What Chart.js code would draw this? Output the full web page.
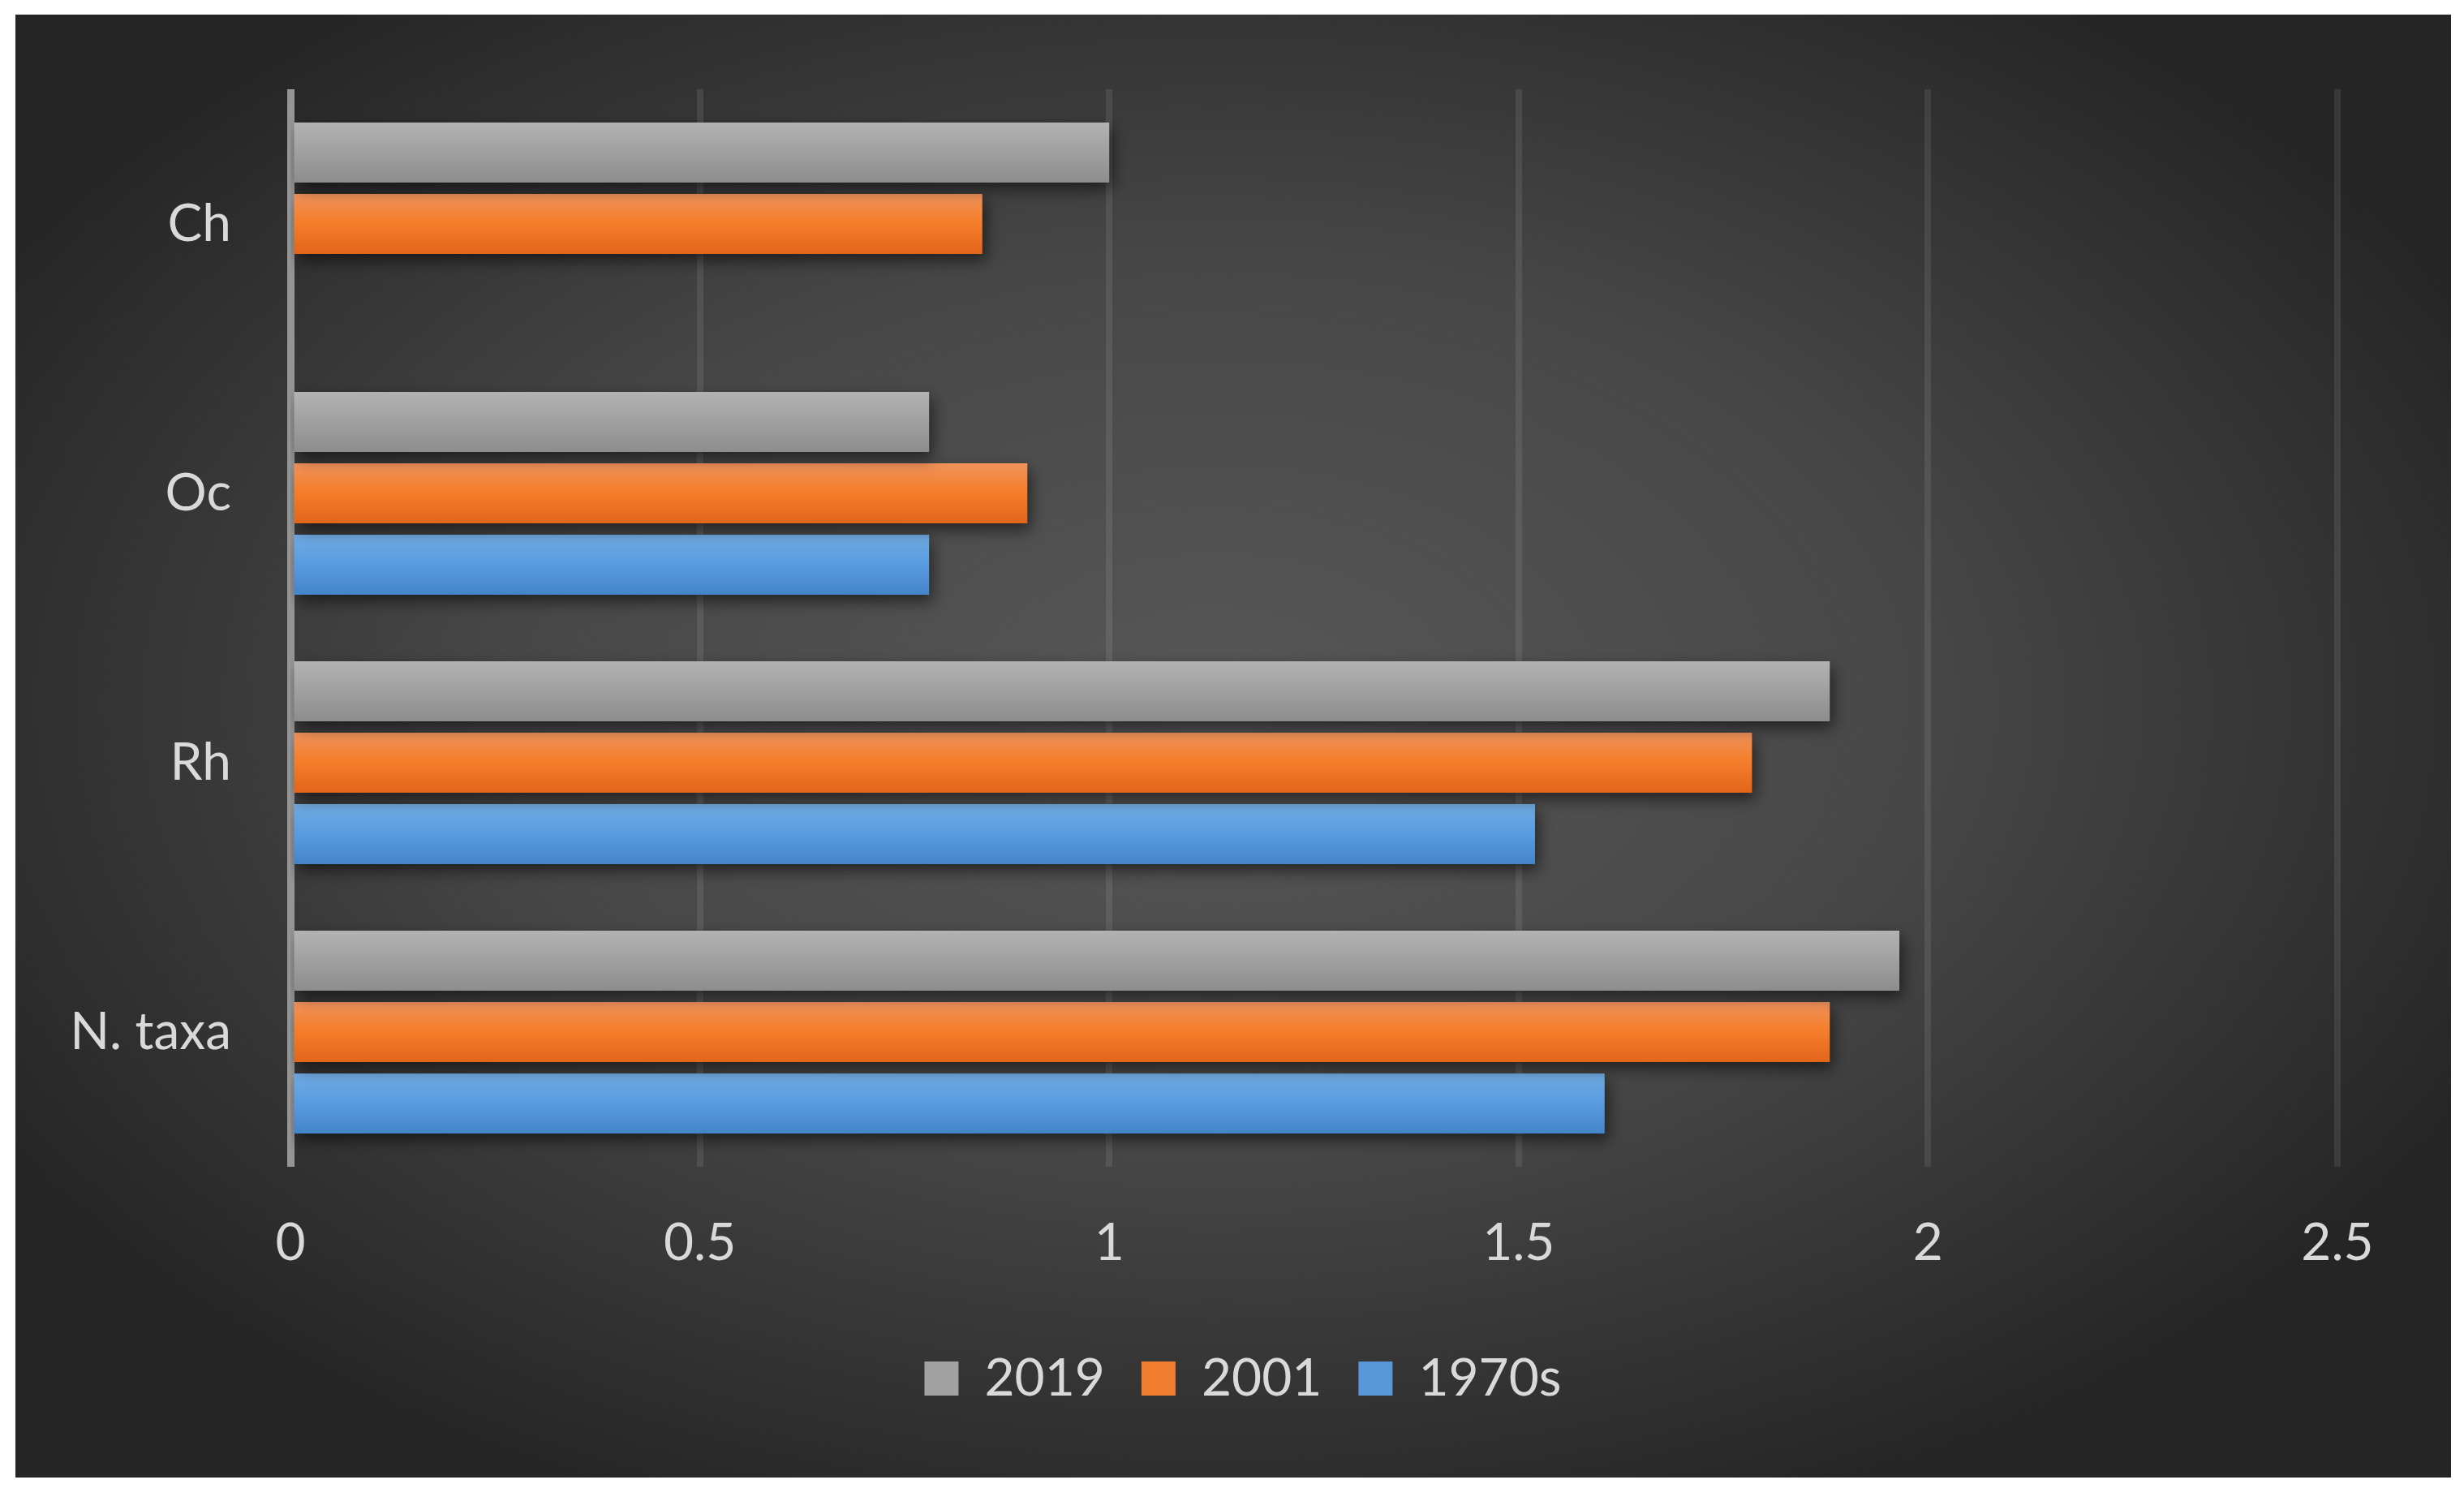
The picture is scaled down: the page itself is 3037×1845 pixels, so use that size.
<!DOCTYPE html>
<html>
<head>
<meta charset="utf-8">
<script src="https://cdn.jsdelivr.net/npm/chart.js@4/dist/chart.umd.min.js"></script>
<style>
  html, body { margin: 0; padding: 0; background: #ffffff; }
  #wrap { position: absolute; left: 19px; top: 18px; width: 3002px; height: 1803px; }
</style>
</head>
<body>
<div id="wrap"><canvas id="taxaChart" width="3002" height="1803"></canvas></div>
<script>
// Valores
const categories = ['Ch', 'Oc', 'Rh', 'N. taxa'];
const seriesNames = ['2019', '2001', '1970s'];
const values2019 = [1.0, 0.78, 1.88, 1.965];
const values2001 = [0.845, 0.9, 1.785, 1.88];
const values1970s = [null, 0.78, 1.52, 1.605];
const xTicks = [0, 0.5, 1, 1.5, 2, 2.5];
const xTickLabels = ['0', '0.5', '1', '1.5', '2', '2.5'];

// Estilo de cada serie (gradiente vertical dentro de cada barra)
const seriesStyles = [
    { base: '#a2a2a2', stops: [[0, '#b2b2b2'], [1, '#8d8d8d']] },
    { base: '#f07d2e', stops: [[0, '#f0935c'], [0.45, '#f57f2c'], [1, '#e3651a']] },
    { base: '#5698da', stops: [[0, '#71aae2'], [0.45, '#5a9de0'], [1, '#4385c8']] }
];

const TEXT_COLOR = '#d9d9d9';
Chart.defaults.font.family = 'Lato';
Chart.defaults.font.size = 64;
Chart.defaults.color = TEXT_COLOR;

// Fondo oscuro con degradado radial
const backgroundPlugin = {
    id: 'darkBackground',
    beforeDraw(chart) {
        const ctx = chart.ctx;
        const w = chart.width, h = chart.height;
        const cx = 1480, cy = 850, sy = 0.62;
        ctx.save();
        ctx.translate(cx, cy);
        ctx.scale(1, sy);
        const g = ctx.createRadialGradient(0, 0, 0, 0, 0, 1750);
        g.addColorStop(0, '#575757');
        g.addColorStop(0.5, '#474747');
        g.addColorStop(1, '#252525');
        ctx.fillStyle = g;
        ctx.fillRect(-cx, -cy / sy, w, h / sy);
        ctx.restore();
    }
};

// La leyenda va centrada en todo el lienzo, no solo en el área de datos
const legendShiftPlugin = {
    id: 'legendShift',
    afterLayout(chart) {
        const lg = chart.legend;
        if (!lg) return;
        lg.left += 82;
        lg.right += 82;
    }
};

// Gradiente y sombra en las barras
const barLookPlugin = {
    id: 'barLook',
    beforeDatasetsDraw(chart) {
        const ctx = chart.ctx;
        chart.data.datasets.forEach((ds, di) => {
            const meta = chart.getDatasetMeta(di);
            const st = seriesStyles[di];
            meta.data.forEach(el => {
                if (!el.options || Object.isFrozen(el.options)) return;
                const top = el.y - el.height / 2;
                const g = ctx.createLinearGradient(0, top, 0, top + el.height);
                st.stops.forEach(s => g.addColorStop(s[0], s[1]));
                el.options.backgroundColor = g;
            });
        });
        ctx.save();
        ctx.shadowColor = 'rgba(0, 0, 0, 0.55)';
        ctx.shadowBlur = 18;
        ctx.shadowOffsetX = 4;
        ctx.shadowOffsetY = 8;
    },
    afterDatasetsDraw(chart) {
        chart.ctx.restore();
    }
};

const allValues = [values2019, values2001, values1970s];

new Chart(document.getElementById('taxaChart'), {
    type: 'bar',
    data: {
        labels: categories,
        datasets: seriesNames.map((name, i) => ({
            label: name,
            data: allValues[i],
            backgroundColor: () => seriesStyles[i].base,
            borderWidth: 0,
            categoryPercentage: 0.796,
            barPercentage: 0.84
        }))
    },
    options: {
        indexAxis: 'y',
        responsive: false,
        devicePixelRatio: 1,
        animation: false,
        layout: {
            padding: { top: 92, right: 140, bottom: 80, left: 0 }
        },
        plugins: {
            legend: {
                display: true,
                position: 'bottom',
                labels: {
                    boxWidth: 42,
                    boxHeight: 42,
                    padding: 45,
                    color: TEXT_COLOR,
                    font: { family: 'Lato', size: 64 }
                }
            },
            tooltip: { enabled: false }
        },
        scales: {
            x: {
                min: 0,
                max: 2.5,
                afterBuildTicks: function(scale) {
                    scale.ticks = xTicks.map(v => ({ value: v }));
                },
                afterFit: function(scale) {
                    scale.height = 184;
                },
                border: { display: false },
                grid: {
                    drawTicks: false,
                    color: c => (c.tick && c.tick.value === 0) ? '#959595' : 'rgba(255,255,255,0.09)',
                    lineWidth: c => (c.tick && c.tick.value === 0) ? 9 : 8
                },
                ticks: {
                    padding: 56,
                    color: TEXT_COLOR,
                    font: { family: 'Lato', size: 64 },
                    callback: function(value) {
                        const i = xTicks.indexOf(value);
                        return i >= 0 ? xTickLabels[i] : String(value);
                    }
                }
            },
            y: {
                afterFit: function(scale) {
                    scale.width = 339;
                    scale.paddingTop = 0;
                    scale.paddingBottom = 0;
                },
                border: { display: false },
                grid: { display: false, drawTicks: false },
                ticks: {
                    padding: 73,
                    color: TEXT_COLOR,
                    font: { family: 'Lato', size: 64 }
                }
            }
        }
    },
    plugins: [backgroundPlugin, legendShiftPlugin, barLookPlugin]
});
</script>
</body>
</html>
